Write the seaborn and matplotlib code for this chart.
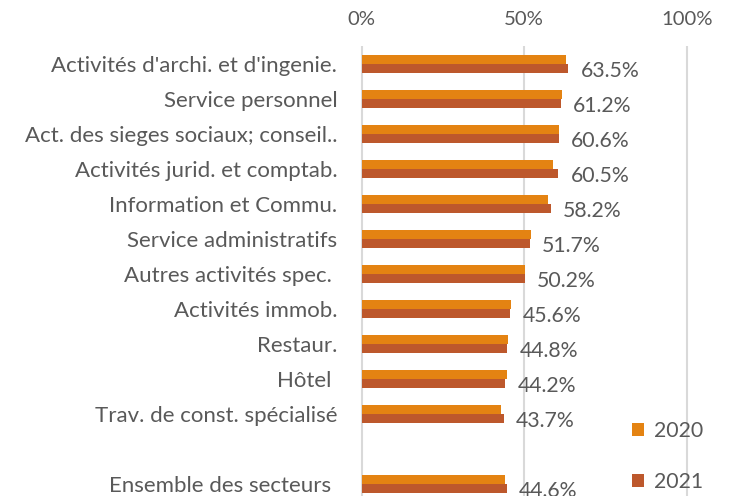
import matplotlib
matplotlib.use("Agg")
import matplotlib.pyplot as plt
import seaborn as sns
import pandas as pd
from matplotlib.ticker import PercentFormatter

categories = [
    "Activités d'archi. et d'ingenie.",
    "Service personnel",
    "Act. des sieges sociaux; conseil..",
    "Activités jurid. et comptab.",
    "Information et Commu.",
    "Service administratifs",
    "Autres activités spec. ",
    "Activités immob.",
    "Restaur.",
    "Hôtel ",
    "Trav. de const. spécialisé",
    "Ensemble des secteurs ",
]
values_2020 = [0.630, 0.618, 0.606, 0.590, 0.574, 0.521, 0.502, 0.460, 0.452, 0.446, 0.429, 0.442]
values_2021 = [0.635, 0.612, 0.606, 0.605, 0.582, 0.517, 0.502, 0.456, 0.448, 0.442, 0.437, 0.446]
years = ["2020", "2021"]
x_ticks = [0, 0.5, 1.0]

# Display order includes an empty slot before the overall row
order = categories[:-1] + [" "] + categories[-1:]

df = pd.concat([
    pd.DataFrame({"cat": categories, "val": values_2020, "year": years[0]}),
    pd.DataFrame({"cat": categories, "val": values_2021, "year": years[1]}),
])

sns.set_theme(style="white")
plt.rcParams["font.family"] = ["Lato", "DejaVu Sans"]
text_color = "#595959"
fs_cat = 16
fs_val = 15.3
fs_tick = 14.6

W, H = 743, 496
fig = plt.figure(figsize=(W / 100, H / 100), dpi=100)
x0_px, x1_px = 361.5, 686.7
pu = (x1_px - x0_px)
xmin, xmax = -0.006, 1.006
left_px = x0_px + xmin * pu
width_px = (xmax - xmin) * pu
top_px = 46.5
height_px = 35.0 * len(order)
ax = fig.add_axes([left_px / W, 1 - (top_px + height_px) / H, width_px / W, height_px / H])

sns.barplot(data=df, y="cat", x="val", hue="year", order=order, hue_order=years,
            palette=["#E48312", "#BD582C"], width=0.52, orient="h",
            linewidth=0, saturation=1, ax=ax, legend=True)

ax.set_xlim(xmin, xmax)
ax.set_xticks(x_ticks)
ax.xaxis.set_major_formatter(PercentFormatter(1.0, decimals=0))
ax.xaxis.tick_top()
ax.tick_params(axis="x", length=0, pad=13, labelsize=fs_tick, labelcolor=text_color)
ax.tick_params(axis="y", length=0, pad=16, labelsize=fs_cat, labelcolor=text_color)
ax.set_xlabel("")
ax.set_ylabel("")
ax.grid(axis="x", color="#d9d9d9", linewidth=1.5)
ax.set_axisbelow(True)
for s in ax.spines.values():
    s.set_visible(False)

# data labels on 2021 bars
anns = ax.bar_label(ax.containers[1], fmt="{:.1%}", padding=9, fontsize=fs_val, color=text_color)
for a in anns:
    a.xyann = (9, -2)

handles, labels = ax.get_legend_handles_labels()
if ax.get_legend() is not None:
    ax.get_legend().remove()
fig.legend(handles, labels, loc="upper left", bbox_to_anchor=(632 / W, 1 - 421 / H),
           frameon=False, fontsize=fs_val, labelcolor=text_color, handlelength=0.55,
           handleheight=0.55, handletextpad=0.5, labelspacing=1.45, borderaxespad=0,
           borderpad=0)

fig.savefig("out.png", dpi=100)
